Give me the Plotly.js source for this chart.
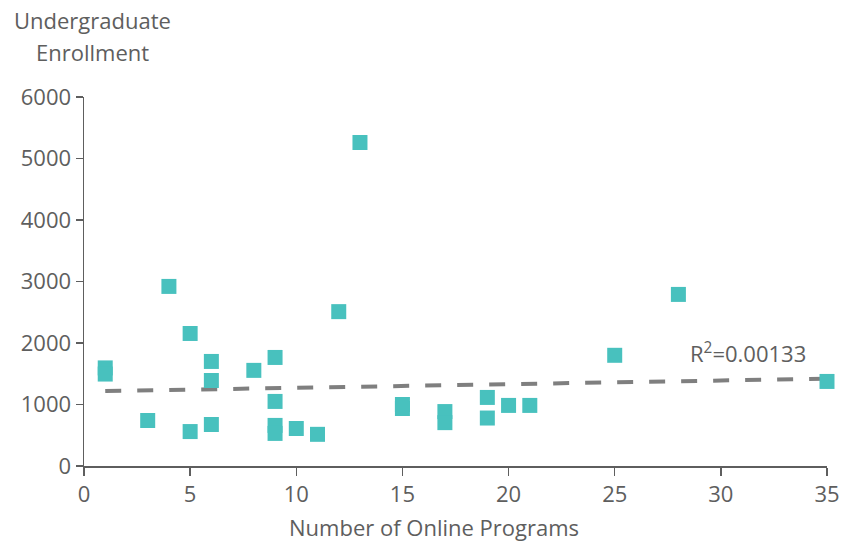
<!DOCTYPE html>
<html>
<head>
<meta charset="utf-8">
<script src="https://cdn.plot.ly/plotly-3.0.1.min.js"></script>
<style>html,body{margin:0;padding:0;background:#fff;}#chart{width:843px;height:544px;}</style>
</head>
<body>
<div id="chart"></div>
<script>
// Number of online programs (x) vs undergraduate enrollment (y)
const programs = [1, 1, 3, 4, 5, 5, 6, 6, 6, 8, 9, 9, 9, 9, 10, 11, 12, 13, 15, 15, 17, 17, 19, 19, 20, 21, 25, 28, 35];
const enrollment = [1595, 1495, 740, 2920, 2155, 560, 1700, 1390, 675, 1555, 1765, 1050, 660, 530, 610, 515, 2510, 5260, 1000, 935, 885, 705, 1115, 780, 985, 985, 1800, 2790, 1375];
// Linear trend line
const trendX = [1, 35];
const trendY = [1218, 1420];
const r2Label = 'R<sup>2</sup>=0.00133';
const xTicks = [0, 5, 10, 15, 20, 25, 30, 35];
const yTicks = [0, 1000, 2000, 3000, 4000, 5000, 6000];
const yTitleLines = ['Undergraduate', 'Enrollment'];
const xTitle = 'Number of Online Programs';

const fontFam = '"Open Sans", "Segoe UI", sans-serif';
const grey = '#5E5E5E';

const traces = [
  {
    x: trendX, y: trendY, type: 'scatter', mode: 'lines',
    line: {color: '#7F7F7F', width: 4, dash: '16px,16px'},
    hoverinfo: 'skip', cliponaxis: false
  },
  {
    x: programs, y: enrollment, type: 'scatter', mode: 'markers',
    marker: {symbol: 'square', size: 15, color: '#48C1BE', line: {width: 0}},
    cliponaxis: false
  }
];

const layout = {
  width: 843, height: 544,
  margin: {l: 84, r: 16, t: 97, b: 78},
  paper_bgcolor: '#fff', plot_bgcolor: '#fff',
  showlegend: false,
  font: {family: fontFam, color: grey, size: 22},
  xaxis: {
    range: [0, 35], tickvals: xTicks, ticktext: xTicks.map(String),
    showgrid: false, zeroline: false, showline: true, linecolor: grey, linewidth: 1.5,
    ticks: 'outside', ticklen: 8, tickcolor: grey, tickwidth: 1.5,
    tickfont: {family: fontFam, size: 22, color: grey}
  },
  yaxis: {
    range: [0, 6000], tickvals: yTicks, ticktext: yTicks.map(String),
    showgrid: false, zeroline: false, showline: true, linecolor: grey, linewidth: 1.5,
    ticks: 'outside', ticklen: 7, tickcolor: grey, tickwidth: 1.5,
    tickfont: {family: fontFam, size: 22, color: grey}
  },
  annotations: [
    {
      text: yTitleLines[0], xref: 'paper', yref: 'paper',
      x: 0.0108, y: (466 - 20) / 369, xanchor: 'center', yanchor: 'middle',
      showarrow: false, font: {family: fontFam, size: 22, color: grey}
    },
    {
      text: yTitleLines[1], xref: 'paper', yref: 'paper',
      x: 0.0108, y: (466 - 52) / 369, xanchor: 'center', yanchor: 'middle',
      showarrow: false, font: {family: fontFam, size: 22, color: grey}
    },
    {
      text: xTitle, xref: 'paper', yref: 'paper',
      x: 0.471, y: (466 - 527) / 369, xanchor: 'center', yanchor: 'middle',
      showarrow: false, font: {family: fontFam, size: 22, color: grey}
    },
    {
      text: r2Label, xref: 'x', yref: 'y', x: 31.3, y: 1840,
      xanchor: 'center', yanchor: 'middle', showarrow: false,
      font: {family: fontFam, size: 22, color: grey}
    }
  ]
};

Plotly.newPlot('chart', traces, layout, {displayModeBar: false, staticPlot: true});
</script>
</body>
</html>
